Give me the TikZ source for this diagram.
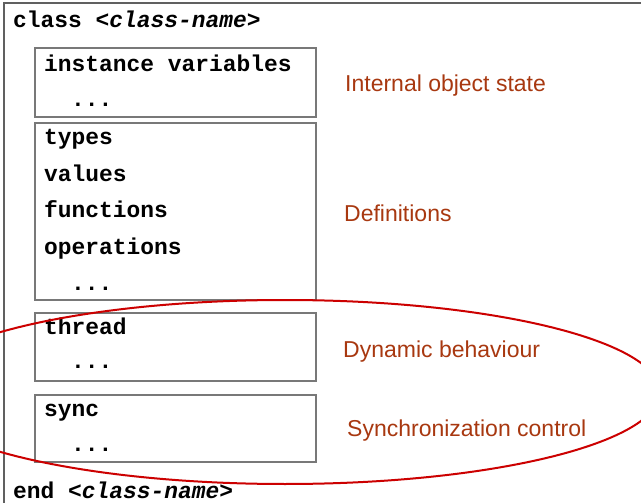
\documentclass[tikz,border=0pt]{standalone}
\usepackage{fontspec}
\setmainfont{Liberation Sans}
\newfontfamily\monof{Liberation Mono}
\definecolor{labelc}{RGB}{168,56,16}
\definecolor{ellc}{RGB}{204,0,0}
\definecolor{boxc}{RGB}{120,120,120}
\begin{document}
\begin{tikzpicture}[x=1pt,y=-1pt,
  code/.style={anchor=base west,inner sep=0pt,font=\monof\bfseries\fontsize{22.9}{27}\selectfont},
  lbl/.style={anchor=base west,inner sep=0pt,text=labelc,font=\fontsize{23}{27}\selectfont},
  boxln/.style={draw=boxc,line width=1.3pt},
  outerln/.style={draw=boxc!80!black,line width=1.6pt},
  ell/.style={draw=ellc,line width=2pt}]
\useasboundingbox (0,0) rectangle (641,503);
\clip (0,0) rectangle (641,503);
\fill[white] (0,0) rectangle (641,503);
% outer class frame
\draw[outerln] (4,3) rectangle (720,560);
% inner boxes
\draw[boxln] (35,48) rectangle (316,117);
\draw[boxln] (35,123) rectangle (316,300);
\draw[boxln] (35,313) rectangle (316,381);
\draw[boxln] (35,395) rectangle (316,462);
% code texts
\node[code] (cls) at (13,28) {class <{\itshape class-name}>};
\node[code] (iv) at (44,72) {instance variables};
\node[code] (d1) at (71,107) {...};
\node[code] (ty) at (44,145) {types};
\node[code] (va) at (44,182) {values};
\node[code] (fu) at (44,218) {functions};
\node[code] (op) at (44,254) {operations};
\node[code] (d2) at (71,290) {...};
\node[code] (th) at (44,334) {thread};
\node[code] (d3) at (71,368) {...};
\node[code] (sy) at (44,416) {sync};
\node[code] (d4) at (71,451) {...};
\node[code] (en) at (13,498) {end <{\itshape class-name}>};
% labels
\node[lbl] (l1) at (345,92) {Internal object state};
\node[lbl] (l2) at (344,221) {Definitions};
\node[lbl] (l3) at (343,357) {Dynamic behaviour};
\node[lbl] (l4) at (347,436) {Synchronization control};
% highlight ellipse
\draw[ell] (285,392) ellipse [x radius=375pt, y radius=92pt];
\end{tikzpicture}
\end{document}
